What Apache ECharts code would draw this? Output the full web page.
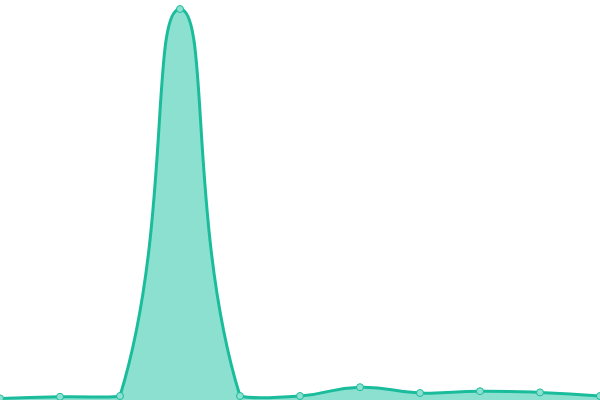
<!DOCTYPE html>
<html><head><meta charset="utf-8">
<script src="https://cdn.jsdelivr.net/npm/echarts@6/dist/echarts.min.js"></script>
<style>html,body{margin:0;padding:0;background:#fff}#c{width:600px;height:400px}</style>
</head><body><div id="c"></div>
<script>
var categories = ['A','B','C','D','E','F','G','H','I','J','K'];
var values = [0.4, 0.8, 1.0, 97.75, 1.0, 1.0, 3.2, 1.75, 2.2, 1.9, 1.0];

function smoothPath(pts, smooth) {
  var minX = Infinity, minY = Infinity, maxX = -Infinity, maxY = -Infinity;
  pts.forEach(function (p) {
    minX = Math.min(minX, p[0]); maxX = Math.max(maxX, p[0]);
    minY = Math.min(minY, p[1]); maxY = Math.max(maxY, p[1]);
  });
  function clamp(c) {
    return [Math.min(Math.max(c[0], minX), maxX), Math.min(Math.max(c[1], minY), maxY)];
  }
  var n = pts.length;
  var d = 'M' + pts[0][0] + ' ' + pts[0][1];
  var cp0 = pts[0].slice();
  for (var i = 1; i < n; i++) {
    var p = pts[i], prev = pts[i - 1];
    var cp1, v = [0, 0], ratio = 0.5;
    if (i < n - 1) {
      var next = pts[i + 1];
      v = [next[0] - prev[0], next[1] - prev[1]];
      var lp = Math.hypot(p[0] - prev[0], p[1] - prev[1]);
      var ln = Math.hypot(next[0] - p[0], next[1] - p[1]);
      ratio = ln / (ln + lp);
      cp1 = [p[0] - v[0] * smooth * (1 - ratio), p[1] - v[1] * smooth * (1 - ratio)];
    } else {
      cp1 = p.slice();
    }
    var a = clamp(cp0), b = clamp(cp1);
    d += ' C' + a[0] + ' ' + a[1] + ' ' + b[0] + ' ' + b[1] + ' ' + p[0] + ' ' + p[1];
    cp0 = [p[0] + v[0] * smooth * ratio, p[1] + v[1] * smooth * ratio];
  }
  return d;
}

var chart = echarts.init(document.getElementById('c'));
chart.setOption({
  animation: false,
  grid: {left: 0, right: 0, top: 0, bottom: 0},
  xAxis: {type: 'category', data: categories, boundaryGap: false, show: false},
  yAxis: {type: 'value', min: 0, max: 100, show: false},
  series: [{
    type: 'custom',
    silent: true,
    z: 1,
    data: values.map(function (v, i) { return [i, v]; }),
    renderItem: function (params, api) {
      if (params.dataIndex !== 0) return null;
      var pts = values.map(function (v, i) { return api.coord([i, v]); });
      var d = smoothPath(pts, 0.5);
      var b0 = api.coord([0, 0]), bN = api.coord([values.length - 1, 0]);
      return {
        type: 'group',
        children: [
          {type: 'path', shape: {pathData: d + ' L' + bN[0] + ' ' + bN[1] + ' L' + b0[0] + ' ' + b0[1] + ' Z'},
           style: {fill: '#8ce0d0', stroke: 'none'}},
          {type: 'path', shape: {pathData: d},
           style: {fill: 'none', stroke: '#1abc9c', lineWidth: 3}}
        ]
      };
    }
  }, {
    type: 'line',
    z: 2,
    data: values,
    symbol: 'circle',
    symbolSize: 7,
    lineStyle: {width: 0, opacity: 0},
    itemStyle: {color: '#8ee0d0', borderColor: '#1abc9c', borderWidth: 1}
  }]
});
</script></body></html>
